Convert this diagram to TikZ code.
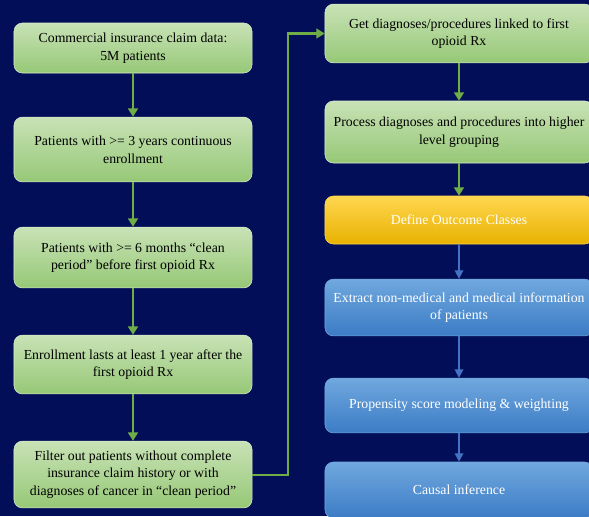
\documentclass[tikz,border=0pt]{standalone}
\usepackage{fontspec}
\setmainfont{Liberation Serif}
\usetikzlibrary{arrows.meta}
\definecolor{navy}{RGB}{2,14,88}
\definecolor{greentop}{RGB}{200,226,182}
\definecolor{greenbot}{RGB}{150,200,118}
\definecolor{greenline}{RGB}{112,173,71}
\definecolor{goldtop}{RGB}{255,214,80}
\definecolor{goldbot}{RGB}{232,178,0}
\definecolor{bluetop}{RGB}{112,168,222}
\definecolor{bluebot}{RGB}{60,124,198}
\definecolor{blueline}{RGB}{68,114,196}
\tikzset{
  stage/.style={rounded corners=6pt,align=center,font=\fontsize{9.8}{12.5}\selectfont,
    inner sep=1pt},
  greenbox/.style={stage,top color=greentop,bottom color=greenbot,draw=greentop!70!white,
    text=black,minimum width=5.95cm},
  goldbox/.style={stage,top color=goldtop,bottom color=goldbot,draw=goldtop,
    text=white,minimum width=6.7cm},
  bluebox/.style={stage,top color=bluetop,bottom color=bluebot,draw=bluetop,
    text=white,minimum width=6.7cm},
  garrow/.style={draw=greenline,line width=1.7pt,-{Triangle[length=6pt,width=7pt]}},
  barrow/.style={draw=blueline,line width=1.3pt,-{Triangle[length=6pt,width=6pt]}}
}
\begin{document}
\begin{tikzpicture}[x=0.025cm,y=-0.025cm]
\fill[navy] (0,0) rectangle (589,516);
\useasboundingbox (0,0) rectangle (589,516);
\clip (0,0) rectangle (589,516);
% left column
\node[greenbox,minimum height=1.25cm] (claims) at (133,48) {Commercial insurance claim data:\\5M patients};
\node[greenbox,minimum height=1.62cm] (cont) at (133,149.5) {Patients with >= 3 years continuous\\enrollment};
\node[greenbox,minimum height=1.52cm] (clean) at (133,257.5) {Patients with >= 6 months “clean\\period” before first opioid Rx};
\node[greenbox,minimum height=1.47cm] (follow) at (133,364.5) {Enrollment lasts at least 1 year after the\\first opioid Rx};
\node[greenbox,minimum height=1.67cm] (filter) at (133,474.5) {Filter out patients without complete\\insurance claim history or with\\diagnoses of cancer in “clean period”};
% right column
\node[greenbox,minimum width=6.7cm,minimum height=1.47cm] (diag) at (459,33.5) {Get diagnoses/procedures linked to first\\opioid Rx};
\node[greenbox,minimum width=6.7cm,minimum height=1.55cm] (group) at (459,132) {Process diagnoses and procedures into higher\\level grouping};
\node[goldbox,minimum height=1.2cm] (outcome) at (459,220) {Define Outcome Classes};
\node[bluebox,minimum height=1.42cm] (extract) at (459,307.5) {Extract non-medical and medical information\\of patients};
\node[bluebox,minimum height=1.37cm] (propensity) at (459,405.5) {Propensity score modeling \& weighting};
\node[bluebox,minimum height=1.4cm] (causal) at (459,490) {Causal inference};
\coordinate (bendlow) at (288,475);
\coordinate (bendhigh) at (288,33.5);
% connectors
\draw[garrow] (claims) -- (cont);
\draw[garrow] (cont) -- (clean);
\draw[garrow] (clean) -- (follow);
\draw[garrow] (follow) -- (filter);
\draw[garrow] (filter.east |- bendlow) -- (bendlow) -- (bendhigh) -- (diag.west);
\draw[garrow] (diag) -- (group);
\draw[garrow] (group) -- (outcome);
\draw[barrow] (outcome) -- (extract);
\draw[barrow] (extract) -- (propensity);
\draw[barrow] (propensity) -- (causal);
\end{tikzpicture}
\end{document}
